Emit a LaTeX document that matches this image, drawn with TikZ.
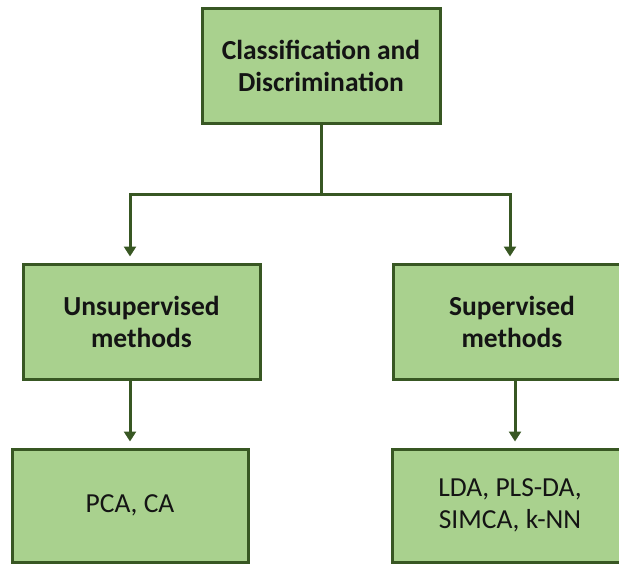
\documentclass[tikz,border=0pt]{standalone}
\usepackage{fontspec}
\setmainfont{Carlito}
\usetikzlibrary{arrows.meta}
\definecolor{boxfill}{HTML}{A9D18E}
\definecolor{boxline}{HTML}{385723}
\begin{document}
\begin{tikzpicture}[x=1pt,y=-1pt,
  box/.style={draw=boxline, fill=boxfill, line width=3pt, rectangle,
    align=center, inner sep=0pt, text=black!92, font=\fontsize{27.5}{32}\selectfont},
  boldbox/.style={box, font=\bfseries\fontsize{27.5}{32}\selectfont},
  conn/.style={draw=boxline, line width=3pt},
  arr/.style={conn, -{Triangle[width=12pt,length=10pt]}, shorten >=6pt}]
\clip (0,0) rectangle (619,563);
\fill[white] (0,0) rectangle (619,563);
\node[boldbox, minimum width=238pt, minimum height=115pt] (top) at (321,65.5) {Classification and\\Discrimination};
\node[boldbox, minimum width=237pt, minimum height=115pt] (um) at (141.5,321.5) {Unsupervised\\methods};
\node[boldbox, minimum width=238pt, minimum height=115pt] (sm) at (512,321.5) {Supervised\\methods};
\node[box, minimum width=236pt, minimum height=113pt] (ul) at (130,505.5) {PCA, CA};
\node[box, minimum width=236pt, minimum height=113pt] (sl) at (510,505.5) {LDA, PLS-DA,\\SIMCA, k-NN};
\coordinate (j) at (top.south |- 0,194);
\coordinate (xl) at (130,0);
\coordinate (xr) at (510,0);
\coordinate (xr2) at (515,0);
\draw[conn] (top.south) -- (j);
\draw[arr] (j) -| (um.north -| xl);
\draw[arr] (j) -| (sm.north -| xr);
\draw[arr] (um.south -| xl) -- (ul.north -| xl);
\draw[arr] (sm.south -| xr2) -- (sl.north -| xr2);
\end{tikzpicture}
\end{document}
